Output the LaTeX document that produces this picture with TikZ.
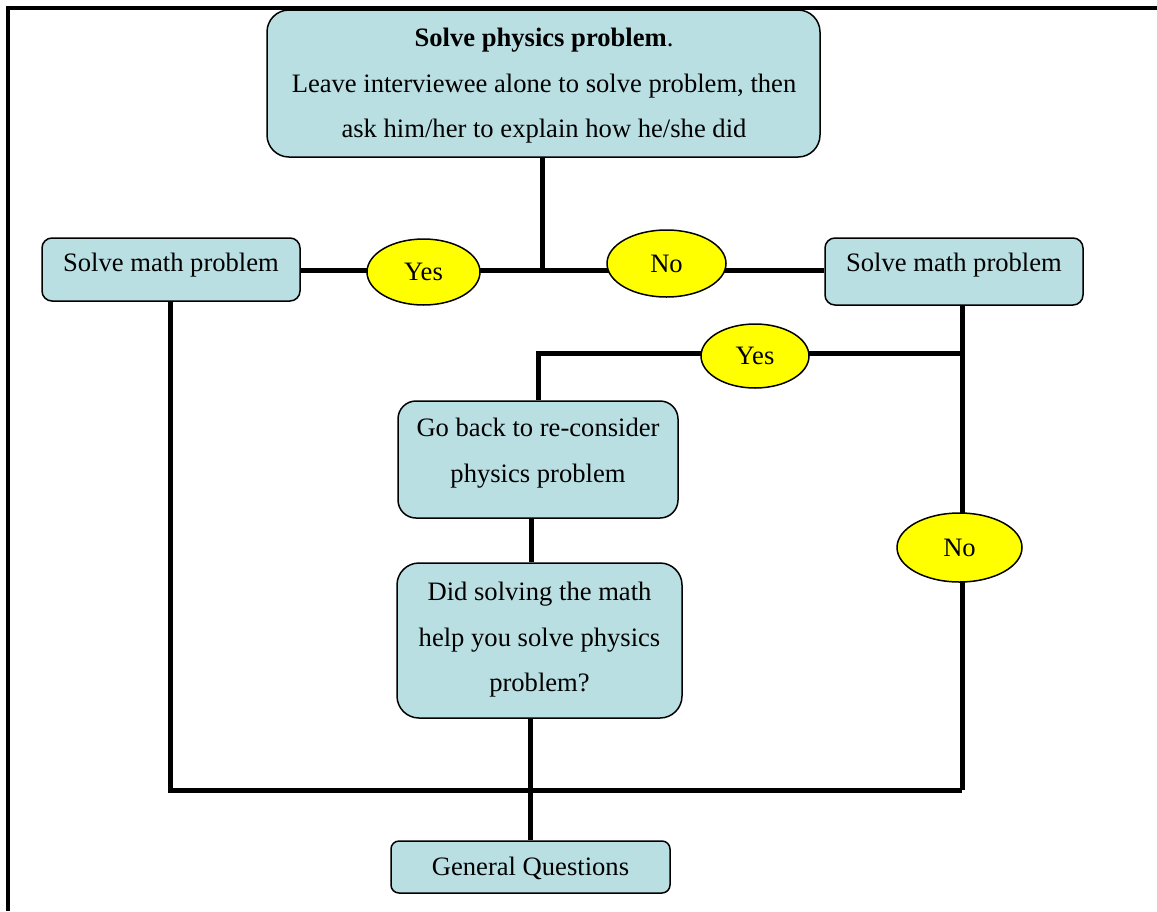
\documentclass[tikz,border=0pt]{standalone}
\usepackage{fontspec}
\setmainfont{Liberation Serif}
\usetikzlibrary{shapes.geometric,backgrounds}
\definecolor{boxfill}{RGB}{185,223,227}
\definecolor{ansfill}{RGB}{255,255,0}
\tikzset{
  stepbox/.style={draw=black, line width=1.5pt, fill=boxfill, rectangle, inner sep=0pt},
  ans/.style={draw=black, line width=1.5pt, fill=ansfill, ellipse, inner sep=0pt,
              font=\fontsize{26.6}{30}\selectfont},
  txt/.style={inner sep=0pt, align=center, font=\fontsize{26.6}{45.5}\selectfont},
  conn/.style={draw=black, line width=5pt},
  frame/.style={draw=black, line width=4pt}
}
\begin{document}
\begin{tikzpicture}[x=1pt,y=-1pt]
\useasboundingbox (0,0) rectangle (1157,911);
\draw[frame] (8,911) |- (1157,8);

% boxes
\node[stepbox, rounded corners=22pt, minimum width=553pt, minimum height=147pt] (top) at (543.5,83.5) {};
\node[txt] (toptxt) at (544,86) {\textbf{Solve physics problem}.\\Leave interviewee alone to solve problem, then\\ask him/her to explain how he/she did};

\node[stepbox, rounded corners=10pt, minimum width=258pt, minimum height=63pt] (lm) at (171,269.5) {};
\node[txt] (lmtxt) at (171,265) {Solve math problem};

\node[stepbox, rounded corners=10pt, minimum width=258pt, minimum height=67pt] (rm) at (954,271.5) {};
\node[txt] (rmtxt) at (954,265) {Solve math problem};

\node[stepbox, rounded corners=18pt, minimum width=280pt, minimum height=117pt] (back) at (538,459.5) {};
\node[txt] (backtxt) at (538,453) {Go back to re-consider\\physics problem};

\node[stepbox, rounded corners=22pt, minimum width=285pt, minimum height=155pt] (did) at (539.5,640.5) {};
\node[txt] (didtxt) at (539.5,640) {Did solving the math\\help you solve physics\\problem?};

\node[stepbox, rounded corners=8pt, minimum width=279pt, minimum height=52pt] (gq) at (530.5,867) {};
\node[txt] (gqtxt) at (530.5,868) {General Questions};

% answers
\node[ans, minimum width=113pt, minimum height=66pt] (yes1) at (423.5,272) {Yes};
\node[ans, minimum width=119pt, minimum height=67pt] (no1) at (666.5,263.5) {No};
\node[ans, minimum width=108pt, minimum height=64pt] (yes2) at (755,356) {Yes};
\node[ans, minimum width=125pt, minimum height=69pt] (no2) at (959.5,547.5) {No};

% junctions
\coordinate (j1) at (542,270);
\coordinate (jr) at (962,353);
\coordinate (jl) at (538,353);
\coordinate (bl) at (170,790);
\coordinate (br) at (962,790);

\begin{scope}[on background layer]
\draw[conn] (top.south -| j1) -- (j1);
\draw[conn] (lm.east |- j1) -- (yes1.center |- j1) -- (j1);
\draw[conn] (j1) -- (no1.center |- j1) -- (rm.west |- j1);
\draw[conn] (rm.south -| jr) -- (jr) -- (no2.center -| jr) -- (br);
\draw[conn] (jr) -- (yes2.center |- jr) -- (jl) -- (back.north -| jl);
\draw[conn] (back.south -| 531,0) -- (did.north -| 531,0);
\draw[conn] (did.south -| 530,0) -- (gq.north -| 530,0);
\draw[conn] (lm.south -| bl) -- (bl) -- (br);
\end{scope}
\end{tikzpicture}
\end{document}
